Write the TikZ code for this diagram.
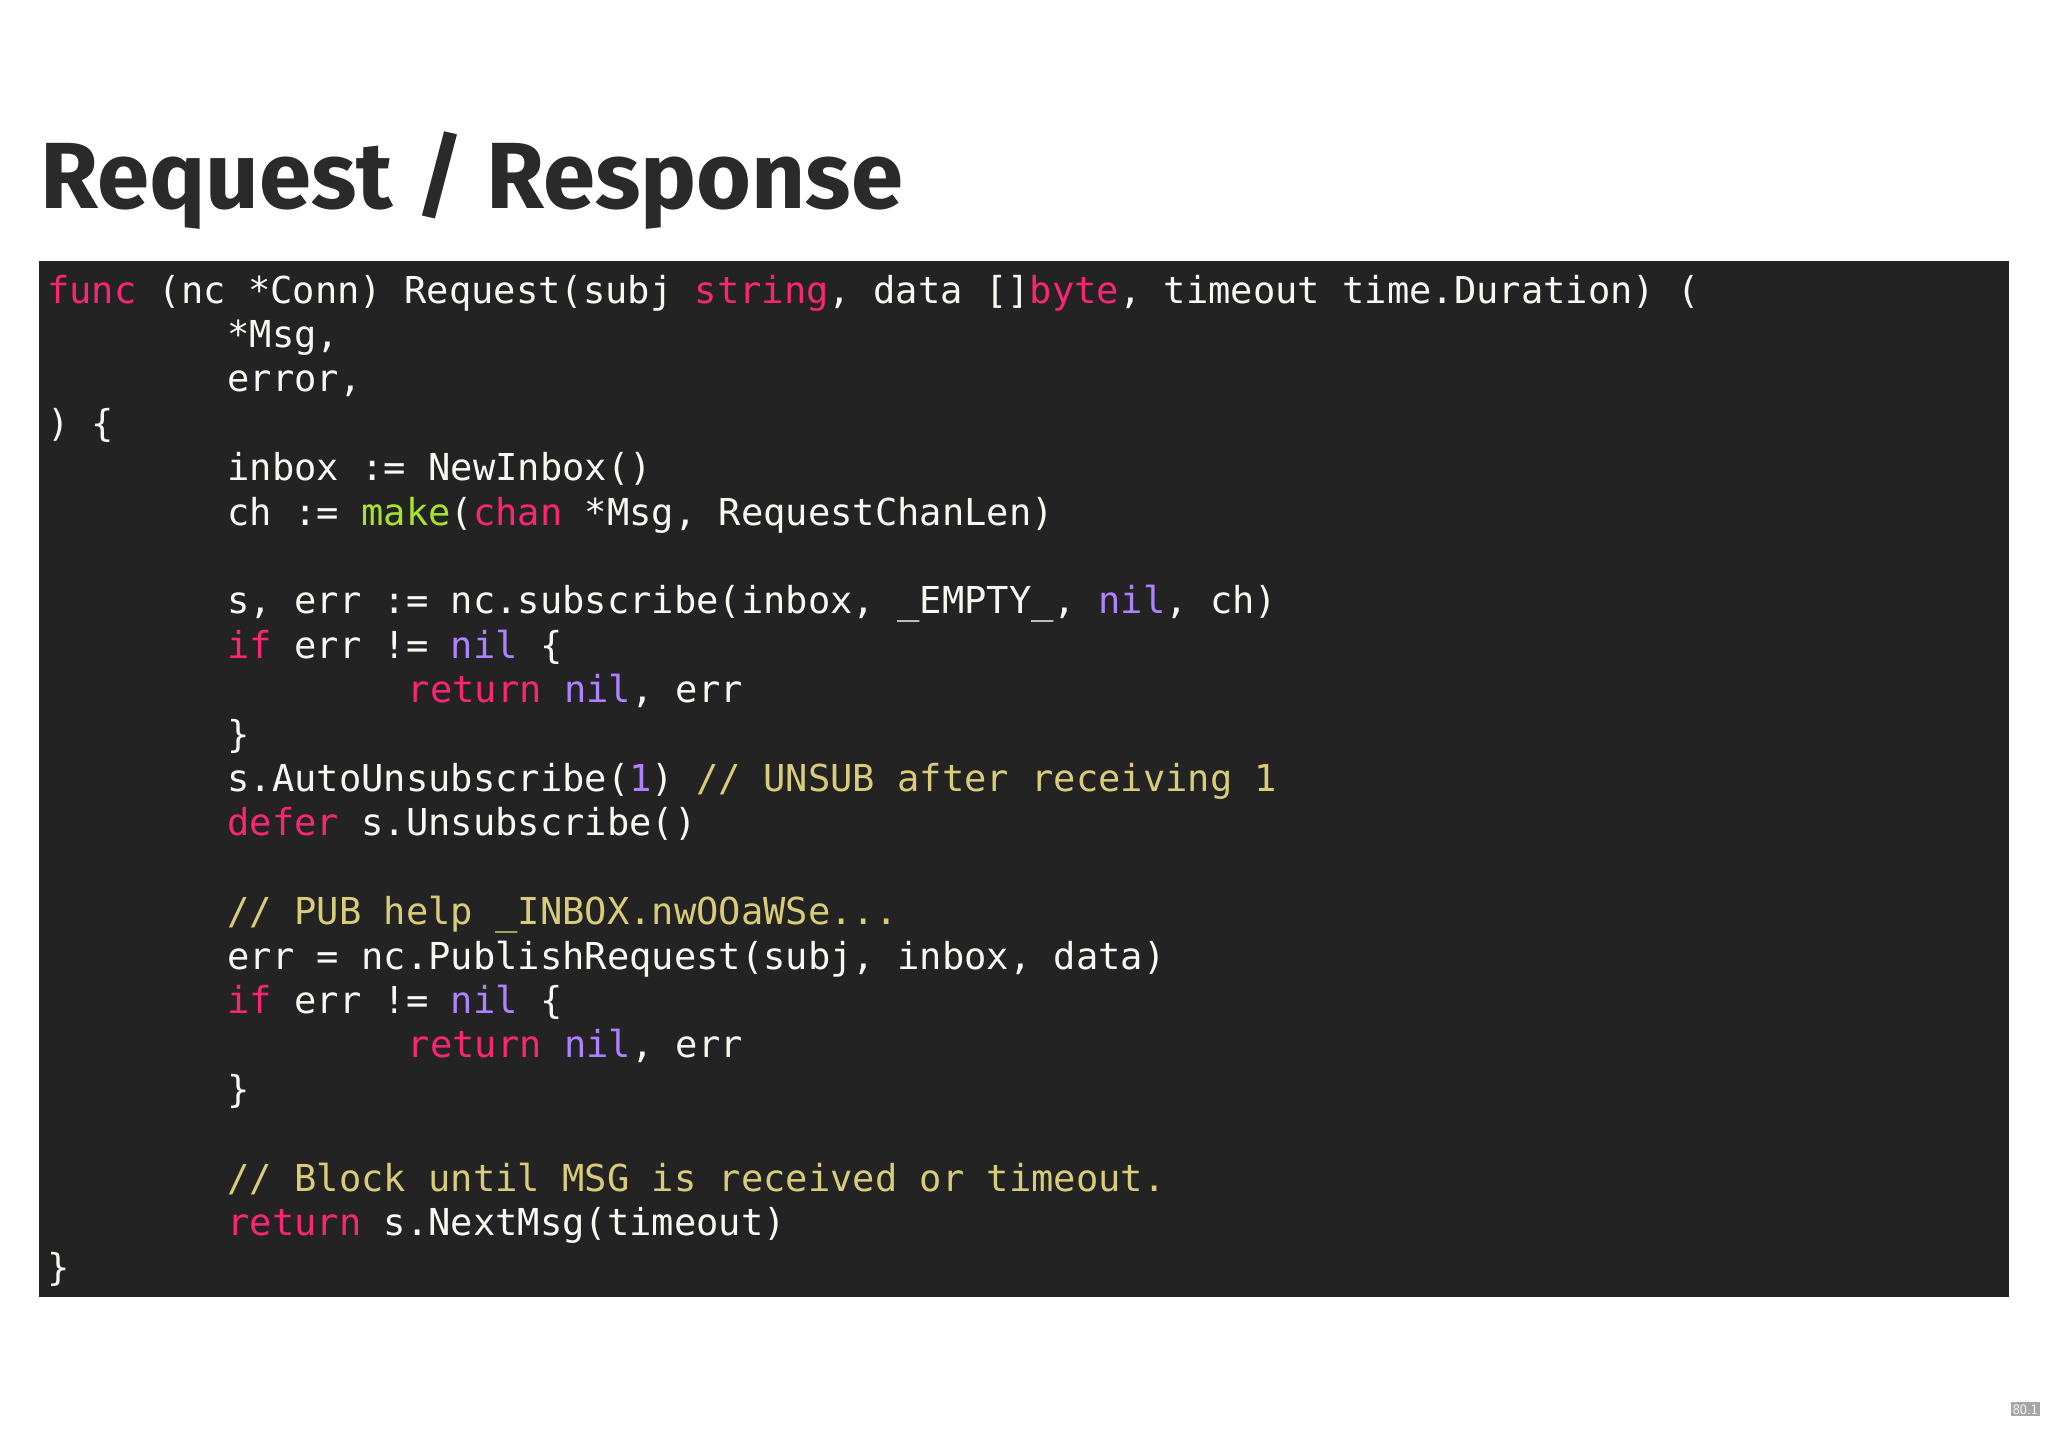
\documentclass[tikz,border=0pt]{standalone}
\usepackage{fontspec}
\setmainfont{Fira Sans}
\newfontfamily\codef{DejaVu Sans Mono}
\definecolor{bgc}{HTML}{232323}
\definecolor{txc}{HTML}{F8F8F2}
\definecolor{kwc}{HTML}{F92672}
\definecolor{puc}{HTML}{AE81FF}
\definecolor{grc}{HTML}{A6E22E}
\definecolor{cmc}{HTML}{D8CC7A}
\definecolor{ttc}{HTML}{2A2A2A}
\newcommand{\kw}[1]{\textcolor{kwc}{#1}}
\newcommand{\pu}[1]{\textcolor{puc}{#1}}
\newcommand{\gr}[1]{\textcolor{grc}{#1}}
\newcommand{\cm}[1]{\textcolor{cmc}{#1}}
\begin{document}
\begin{tikzpicture}[x=1pt,y=-1pt,
  codeline/.style={anchor=base west,inner sep=0pt,text=txc,font=\codef\fontsize{28.4}{30}\selectfont}]
\useasboundingbox (0,0) rectangle (1568,1095);
\fill[white] (0,0) rectangle (1568,1095);
\node[anchor=base west,inner sep=0pt,text=ttc,font=\fontsize{72}{80}\selectfont\bfseries] (title) at (31,160) {Request / Response};
\fill[bgc] (30,200) rectangle (1538,993);
\def\ia{36}\def\ib{174}\def\ic{312}
\node[codeline] (l1) at (\ia,232) {\kw{func} (nc *Conn) Request(subj \kw{string}, data []\kw{byte}, timeout time.Duration) (};
\node[codeline] (l2) at (\ib,266) {*Msg,};
\node[codeline] (l3) at (\ib,300) {error,};
\node[codeline] (l4) at (\ia,334) {) \{};
\node[codeline] (l5) at (\ib,368) {inbox := NewInbox()};
\node[codeline] (l6) at (\ib,402) {ch := \gr{make}(\kw{chan} *Msg, RequestChanLen)};
\node[codeline] (l8) at (\ib,470) {s, err := nc.subscribe(inbox, \_EMPTY\_, \pu{nil}, ch)};
\node[codeline] (l9) at (\ib,504) {\kw{if} err != \pu{nil} \{};
\node[codeline] (l10) at (\ic,538) {\kw{return} \pu{nil}, err};
\node[codeline] (l11) at (\ib,572) {\}};
\node[codeline] (l12) at (\ib,606) {s.AutoUnsubscribe(\pu{1}) \cm{// UNSUB after receiving 1}};
\node[codeline] (l13) at (\ib,640) {\kw{defer} s.Unsubscribe()};
\node[codeline] (l15) at (\ib,708) {\cm{// PUB help \_INBOX.nwOOaWSe...}};
\node[codeline] (l16) at (\ib,742) {err = nc.PublishRequest(subj, inbox, data)};
\node[codeline] (l17) at (\ib,776) {\kw{if} err != \pu{nil} \{};
\node[codeline] (l18) at (\ic,810) {\kw{return} \pu{nil}, err};
\node[codeline] (l19) at (\ib,844) {\}};
\node[codeline] (l21) at (\ib,912) {\cm{// Block until MSG is received or timeout.}};
\node[codeline] (l22) at (\ib,946) {\kw{return} s.NextMsg(timeout)};
\node[codeline] (l23) at (\ia,980) {\}};
\node[fill=gray!70,text=white,inner sep=1.5pt,font=\sffamily\fontsize{11}{12}\selectfont,anchor=east] (pg) at (1562,1079) {80.1};
\end{tikzpicture}
\end{document}
